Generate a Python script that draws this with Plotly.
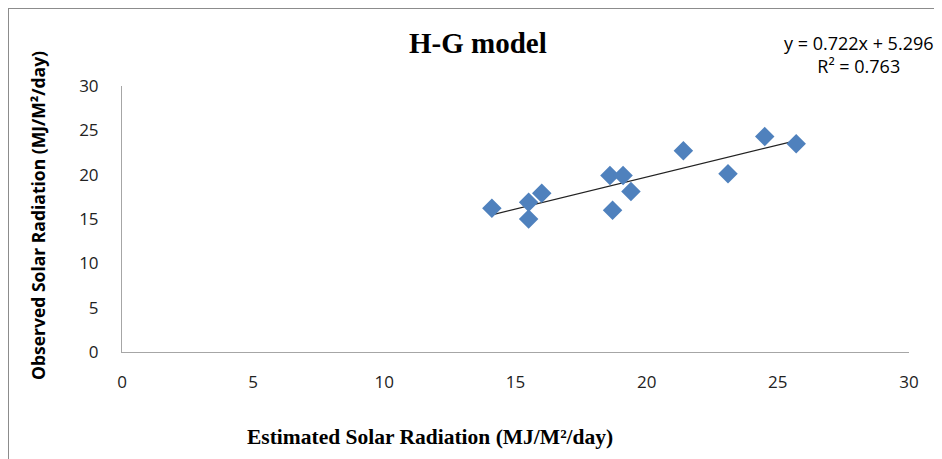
import plotly.graph_objects as go

# Data
estimated = [14.1, 15.5, 15.5, 16.0, 18.6, 19.1, 18.7, 19.4, 21.4, 23.1, 24.5, 25.7]
observed = [16.2, 16.9, 15.0, 17.9, 19.9, 19.9, 16.0, 18.1, 22.7, 20.1, 24.3, 23.5]
slope = 0.722
intercept = 5.296
r_squared = 0.763
x_ticks = [0, 5, 10, 15, 20, 25, 30]
y_ticks = [0, 5, 10, 15, 20, 25, 30]

trend_x = [min(estimated), max(estimated)]
trend_y = [slope * v + intercept for v in trend_x]

fig = go.Figure()
fig.add_trace(go.Scatter(
    x=trend_x, y=trend_y, mode="lines",
    line=dict(color="#222222", width=1.3), showlegend=False, hoverinfo="skip"))
fig.add_trace(go.Scatter(
    x=estimated, y=observed, mode="markers",
    marker=dict(symbol="diamond", size=15, color="#4F81BD"),
    showlegend=False))

axis_common = dict(
    showgrid=False, zeroline=False, showline=True, linecolor="#A6A6A6",
    linewidth=1, ticks="", tickfont=dict(family="Open Sans", size=17, color="#222222"),
)
fig.update_xaxes(range=[0, 30], tickvals=x_ticks, ticklabelstandoff=15, **axis_common)
fig.update_yaxes(range=[0, 30], tickvals=y_ticks, ticklabelstandoff=19, **axis_common)

def px(x):
    return (x - 122) / 787

def py(y):
    return (352 - y) / 266

fig.update_layout(
    width=934, height=451,
    margin=dict(l=114, r=33, t=78, b=107),
    plot_bgcolor="white", paper_bgcolor="white",
    shapes=[dict(type="rect", xref="paper", yref="paper",
                 x0=px(8), x1=px(1000), y0=py(520), y1=py(8),
                 line=dict(color="#8C8C8C", width=2), fillcolor="rgba(0,0,0,0)", layer="below")],
    annotations=[
        dict(text="<b>H-G model</b>", xref="paper", yref="paper",
             x=px(478), y=py(43), xanchor="center", yanchor="middle", showarrow=False,
             font=dict(family="Liberation Serif", size=29, color="#000000")),
        dict(text=f"y = {slope}x + {intercept}<br>R² = {r_squared}",
             xref="paper", yref="paper", x=px(859), y=py(54), xanchor="center", yanchor="middle",
             showarrow=False, align="center",
             font=dict(family="Open Sans", size=18, color="#000000")),
        dict(text="<b>Estimated Solar Radiation (MJ/M²/day)</b>", xref="paper", yref="paper",
             x=px(430), y=py(437), xanchor="center", yanchor="middle", showarrow=False,
             font=dict(family="Liberation Serif", size=21.5, color="#000000")),
        dict(text="<b>Observed Solar Radiation (MJ/M²/day)</b>", xref="paper", yref="paper",
             x=px(38), y=py(216), xanchor="center", yanchor="middle", showarrow=False, textangle=-90,
             font=dict(family="Open Sans", size=17.5, color="#000000")),
    ],
)

fig.write_html("out.html")
